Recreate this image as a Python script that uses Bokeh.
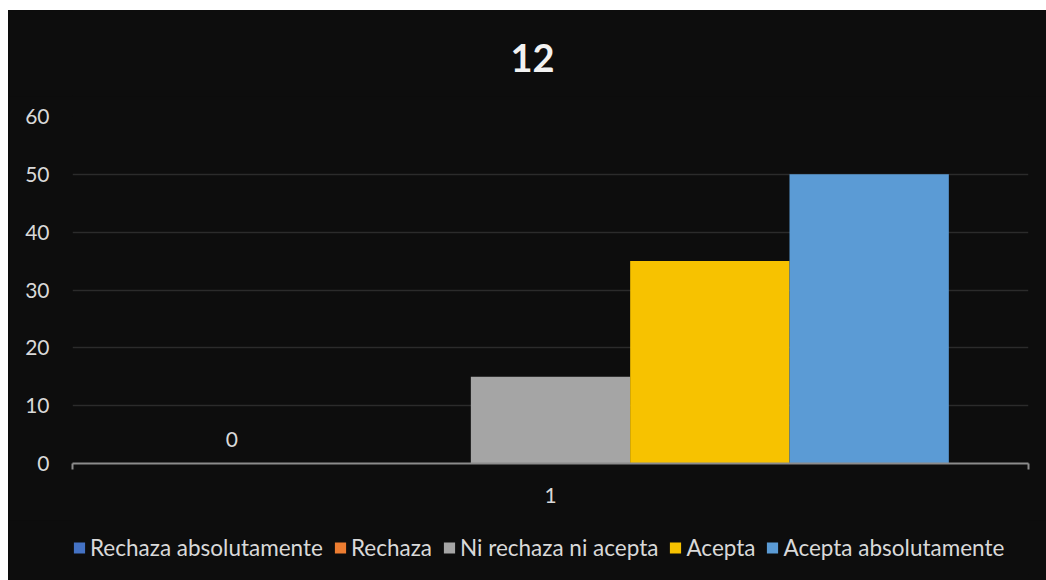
from bokeh.plotting import figure
from bokeh.models import (Range1d, Legend, LegendItem, FixedTicker, ColumnDataSource)
from bokeh.layouts import column
from bokeh.transform import dodge
from bokeh.core.properties import value
from bokeh.embed import file_html
from bokeh.resources import INLINE

category = ["1"]
series = ["Rechaza absolutamente", "Rechaza", "Ni rechaza ni acepta", "Acepta", "Acepta absolutamente"]
values = [0, 0, 15, 35, 50]
colors = ["#4472c4", "#ed7d31", "#a5a5a5", "#f7c200", "#5b9bd5"]
title_text = "12"
y_ticks = [0, 10, 20, 30, 40, 50, 60]

BG = "#0d0d0d"
TXT = "#d9d9d9"
FONT = "Lato"
W = 1038


def strip(height, top=0, bottom=0):
    f = figure(width=W, height=height, output_backend="svg", toolbar_location=None,
               x_range=Range1d(0, 1), y_range=Range1d(0, 1),
               x_axis_location=None, y_axis_location=None,
               background_fill_color=BG, border_fill_color=BG,
               outline_line_color=BG, outline_line_alpha=1, outline_line_width=1,
               min_border_left=20, min_border_right=0, min_border_top=top, min_border_bottom=bottom)
    f.xgrid.grid_line_color = None
    f.ygrid.grid_line_color = None
    return f


# title strip
tp = strip(86)
tp.text(x=[0.5], y=[0.453], text=[title_text], text_font=value(FONT), text_font_size="38px",
        text_font_style="bold", text_color="#f2f2f2", text_align="center",
        text_baseline="middle", x_offset=-18)

# main chart
xpos = [i + 1 for i in range(len(category))]
p = figure(width=W, height=424, output_backend="svg", toolbar_location=None,
           x_range=Range1d(0.5, len(category) + 0.5),
           y_range=Range1d(0, 60),
           background_fill_color=BG, border_fill_color=BG,
           outline_line_color=BG, outline_line_alpha=1, outline_line_width=1,
           min_border_left=64, min_border_right=18, min_border_top=20, min_border_bottom=57)

n = len(series)
w = 1.0 / (n + 1)
for i, (s, v, c) in enumerate(zip(series, values, colors)):
    src = ColumnDataSource(dict(x=xpos, top=[v], lab=[str(v)]))
    off = (i - (n - 1) / 2) * w
    p.vbar(x=dodge("x", off), top="top", width=w, source=src,
           fill_color=c, line_color=None)
    if i == 0:
        p.text(x=dodge("x", off), y="top", text="lab", source=src,
               text_font=value(FONT), text_font_size="21px", text_color=TXT,
               text_align="center", text_baseline="bottom", y_offset=-17)

p.yaxis.ticker = FixedTicker(ticks=y_ticks)
p.yaxis.axis_line_color = None
p.yaxis.major_tick_line_color = None
p.yaxis.minor_tick_line_color = None
p.yaxis.major_label_text_font = FONT
p.yaxis.major_label_text_font_size = "21px"
p.yaxis.major_label_text_color = TXT
p.yaxis.major_label_standoff = 17

p.xaxis.ticker = FixedTicker(ticks=xpos, minor_ticks=[x - 0.5 for x in xpos] + [xpos[-1] + 0.5])
p.xaxis.major_label_overrides = {x: c for x, c in zip(xpos, category)}
p.xaxis.axis_line_color = "#8c8c8c"
p.xaxis.axis_line_width = 2
p.xaxis.major_tick_line_color = None
p.xaxis.major_tick_out = 0
p.xaxis.minor_tick_line_color = "#8c8c8c"
p.xaxis.minor_tick_line_width = 2
p.xaxis.minor_tick_in = 0
p.xaxis.minor_tick_out = 6
p.xaxis.major_label_text_font = FONT
p.xaxis.major_label_text_font_size = "21px"
p.xaxis.major_label_text_color = TXT
p.xaxis.major_label_standoff = 18

p.xgrid.grid_line_color = None
p.ygrid.grid_line_color = "#2b2b2b"
p.ygrid.grid_line_width = 1.5

# legend strip (zero-height proxy bars, only used for the legend swatches)
lp = strip(60, top=0, bottom=6)
items = []
for s, c in zip(series, colors):
    r = lp.vbar(x=[0.5], top=[0], bottom=[0], width=0.01, fill_color=c, line_color=None)
    items.append(LegendItem(label=s, renderers=[r]))
legend = Legend(items=items, orientation="horizontal", location="center_left",
                label_text_font=FONT, label_text_font_size="22.5px", label_text_color=TXT,
                glyph_width=14, glyph_height=14, label_standoff=4, spacing=10,
                background_fill_alpha=0, border_line_color=None, padding=0, margin=0)
lp.add_layout(legend, "center")

layout = column(tp, p, lp, spacing=0, margin=(10, 0, 0, 8),
                styles={"background-color": BG})
open("out.html", "w").write(file_html(layout, INLINE))
